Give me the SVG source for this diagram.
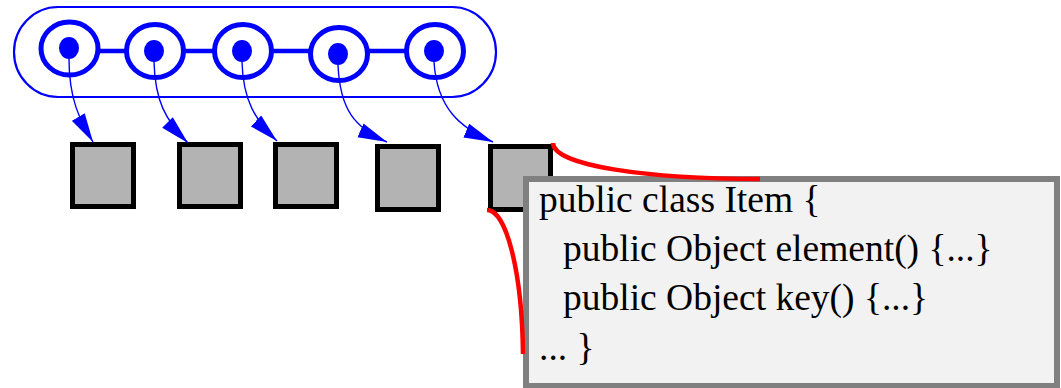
<svg xmlns="http://www.w3.org/2000/svg" width="1061" height="388" viewBox="0 0 1061 388">
  <style>
    .ring { fill: #ffffff; stroke: #0000ff; stroke-width: 5; }
    .dot { fill: #0000ff; stroke: none; }
    .link { fill: none; stroke: #0000ff; stroke-width: 4.5; }
    .ptr { fill: none; stroke: #0000ff; stroke-width: 1.4; marker-end: url(#head); }
    .item { fill: #b3b3b3; stroke: #000000; stroke-width: 5; }
    .callout { fill: none; stroke: #ff0000; stroke-width: 4.5; stroke-linecap: butt; }
    .code { font-family: "Liberation Serif", "Times New Roman", serif; font-size: 37.5px; fill: #000000; }
  </style>
  <defs>
    <marker id="head" markerUnits="userSpaceOnUse" viewBox="-29 -8 29 16" refX="0" refY="0" markerWidth="29" markerHeight="16" orient="auto">
      <path d="M0,0 L-29,-7.5 L-29,7.5 Z" fill="#0000ff"/>
    </marker>
  </defs>

  <rect width="1061" height="388" fill="#ffffff"/>

  <!-- container holding the linked positions -->
  <g id="sequence">
    <rect x="14" y="7" width="482" height="90" rx="44" ry="45" fill="none" stroke="#0000ff" stroke-width="2.2"/>
    <line class="link" x1="98" y1="51" x2="408" y2="51"/>
  </g>

  <g id="pos1"><ellipse class="ring" cx="69.5" cy="48.5" rx="28.5" ry="26.5"/><ellipse class="dot" cx="69" cy="48" rx="10" ry="11"/></g>
  <g id="pos2"><ellipse class="ring" cx="155" cy="51" rx="28.5" ry="26.5"/><ellipse class="dot" cx="154" cy="51" rx="10" ry="11"/></g>
  <g id="pos3"><ellipse class="ring" cx="243" cy="51" rx="28.5" ry="26.5"/><ellipse class="dot" cx="242" cy="51" rx="10" ry="11"/></g>
  <g id="pos4"><ellipse class="ring" cx="339" cy="54" rx="28.5" ry="26.5"/><ellipse class="dot" cx="338" cy="54" rx="10" ry="11"/></g>
  <g id="pos5"><ellipse class="ring" cx="435" cy="51" rx="28.5" ry="26.5"/><ellipse class="dot" cx="434" cy="51" rx="10" ry="11"/></g>

  <!-- stored items -->
  <g id="item1"><rect class="item" x="72.5" y="144.5" width="61" height="62"/></g>
  <g id="item2"><rect class="item" x="179.5" y="144.5" width="61" height="62"/></g>
  <g id="item3"><rect class="item" x="275.5" y="144.5" width="61" height="62"/></g>
  <g id="item4"><rect class="item" x="377.5" y="146.5" width="61" height="63"/></g>
  <g id="item5"><rect class="item" x="490.5" y="146.5" width="60" height="63"/></g>

  <!-- position-to-item references -->
  <g id="connectors">
    <path class="ptr" d="M69,59 C69,100 80,120 93,142"/>
    <path class="ptr" d="M154,62 C155,100 165,120 188,143"/>
    <path class="ptr" d="M242,62 C243,100 255,120 277,141"/>
    <path class="ptr" d="M338,65 C340,110 355,128 387,142"/>
    <path class="ptr" d="M434,62 C437,108 460,128 493,142"/>
  </g>

  <!-- class definition callout -->
  <g id="item-class">
    <rect x="526" y="179" width="531" height="207" fill="#f2f2f2" stroke="#808080" stroke-width="6"/>
    <text class="code" x="539" y="212">public class Item {</text>
    <text class="code" x="563" y="261">public Object element() {...}</text>
    <text class="code" x="563" y="310">public Object key() {...}</text>
    <text class="code" x="539" y="360">... }</text>
  </g>

  <g id="callout-lines">
    <path class="callout" d="M553,143 C553,166 650,179 760,179"/>
    <path class="callout" d="M487,210 C506,210 522,270 523,354"/>
  </g>
</svg>
